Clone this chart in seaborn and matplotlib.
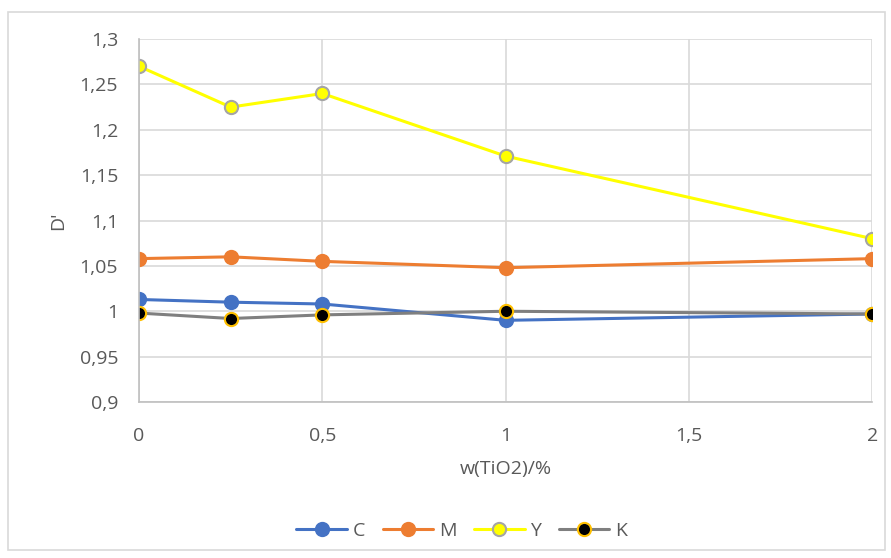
import numpy as np
import pandas as pd
import seaborn as sns
import matplotlib.pyplot as plt
from matplotlib.ticker import FuncFormatter, MultipleLocator
from matplotlib.patches import Rectangle

# data
w_tio2 = [0, 0.25, 0.5, 1, 2]
C = [1.013, 1.010, 1.008, 0.990, 0.997]
M = [1.058, 1.060, 1.055, 1.048, 1.058]
Y = [1.270, 1.225, 1.240, 1.171, 1.080]
K = [0.998, 0.992, 0.996, 1.000, 0.997]

sns.set_style("white")
plt.rcParams['font.family'] = ['Open Sans', 'DejaVu Sans']

fig = plt.figure(figsize=(8.91, 5.58), dpi=100)
ax = fig.add_axes([0.156, 0.2796, 0.823, 0.6504])

# series styles: (name, values, line color, marker face, marker edge)
styles = [
    ("C", C, "#4472C4", "#4472C4", "#4472C4"),
    ("M", M, "#ED7D31", "#ED7D31", "#ED7D31"),
    ("Y", Y, "#FFFF00", "#FFFF00", "#A5A5A5"),
    ("K", K, "#7F7F7F", "#000000", "#FFC000"),
]
for name, vals, lc, mfc, mec in styles:
    df = pd.DataFrame({"x": w_tio2, "y": vals})
    sns.lineplot(data=df, x="x", y="y", ax=ax, color=lc, linewidth=2.2,
                 marker="o", markersize=9.5, markerfacecolor=mfc,
                 markeredgecolor=mec, markeredgewidth=1.5, label=name)

ax.set_xlim(0, 2)
ax.set_ylim(0.9, 1.3)
ax.xaxis.set_major_locator(MultipleLocator(0.5))
ax.yaxis.set_major_locator(MultipleLocator(0.05))

def comma(v, pos):
    s = f"{v:.2f}".rstrip("0").rstrip(".")
    return s.replace(".", ",")

ax.xaxis.set_major_formatter(FuncFormatter(comma))
ax.yaxis.set_major_formatter(FuncFormatter(comma))
ax.grid(True, color="#D9D9D9", linewidth=1.2)
ax.set_axisbelow(True)
for side in ["top", "right"]:
    ax.spines[side].set_visible(False)
for side in ["left", "bottom"]:
    ax.spines[side].set_color("#BFBFBF")
    ax.spines[side].set_linewidth(1.2)
ax.tick_params(colors="#595959", labelsize=14, length=0)
ax.tick_params(axis="x", pad=18)
ax.tick_params(axis="y", pad=15)

ax.set_xlabel("w(TiO2)/%", color="#595959", fontsize=14, labelpad=11)
ax.set_ylabel("D'", color="#595959", fontsize=14, labelpad=9)

leg = ax.legend(loc="center", bbox_to_anchor=(0.44, -0.355), ncol=4,
                frameon=False, fontsize=14, handlelength=2.6, columnspacing=0.9,
                handletextpad=0.3, labelcolor="#595959")

# outer chart border
fig.patches.append(Rectangle((8 / 891, 8 / 558), 877 / 891, 538 / 558,
                             transform=fig.transFigure, fill=False,
                             edgecolor="#D9D9D9", linewidth=1.2))

plt.savefig("out.png", dpi=100)
plt.close()
